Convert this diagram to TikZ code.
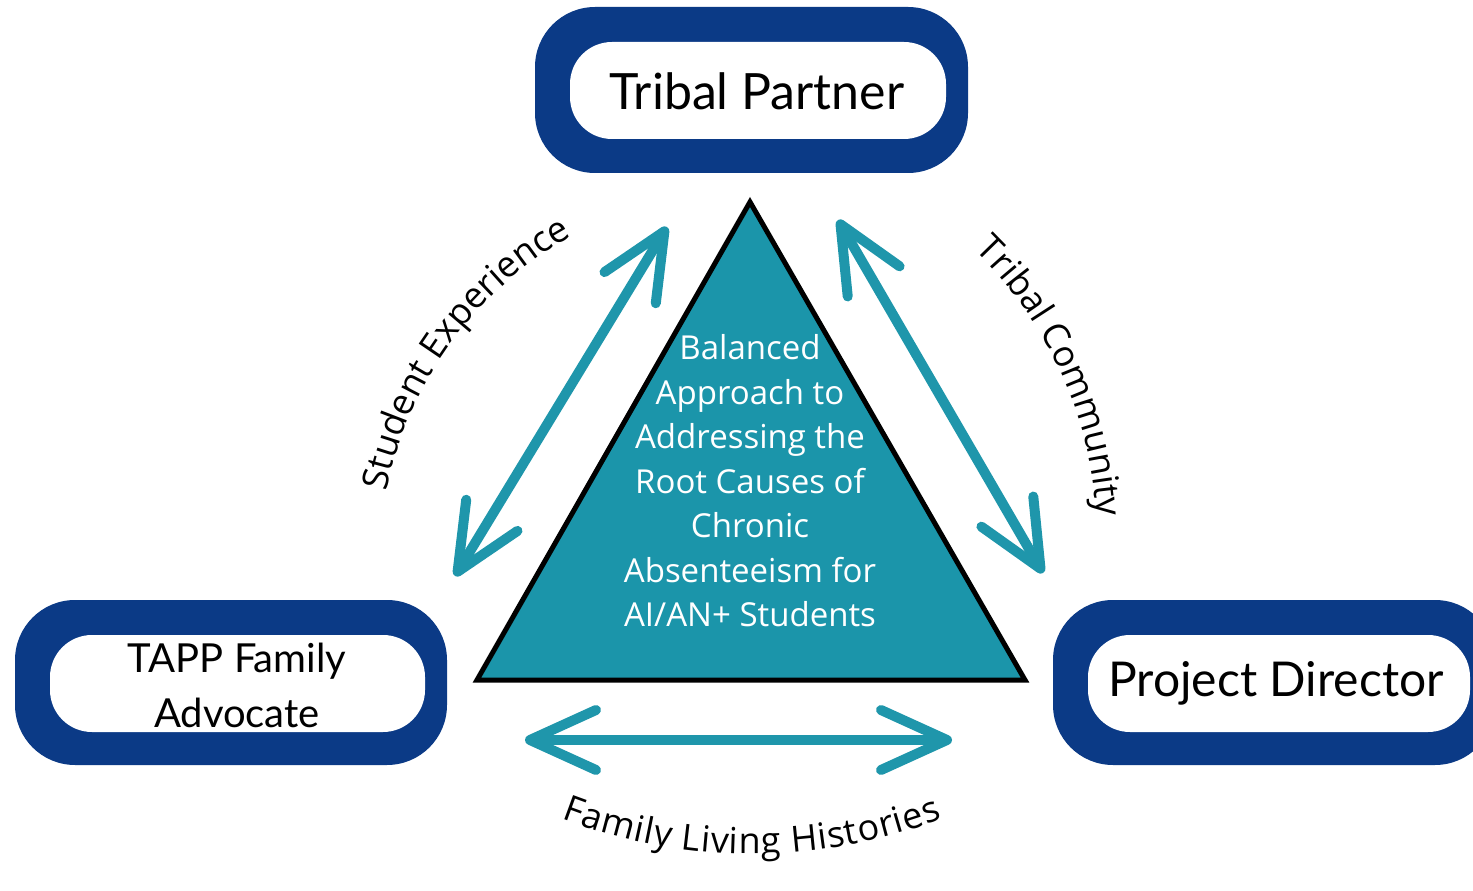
\documentclass[tikz,border=0pt]{standalone}
\usepackage{fontspec}
\usepackage{tikz}
\usetikzlibrary{arrows.meta,decorations.text}

\newfontfamily\boxfont{Lato}
\newfontfamily\capfont{Open Sans}
\newcommand{\arcfont}{\capfont\fontsize{18pt}{20pt}\selectfont}

\definecolor{navyband}{HTML}{0B3A86}
\definecolor{tealfill}{HTML}{1B95AA}
\definecolor{tealarrow}{HTML}{1F96AB}

\begin{document}
\begin{tikzpicture}[x=0.5pt,y=0.5pt,>={Straight Barb[length=33pt,width=30pt,round]},
  link/.style={tealarrow,line width=5pt,line cap=round,<->},
  boxlabel/.style={font=\boxfont\fontsize{25pt}{30pt}\selectfont,anchor=base,inner sep=0pt}]
  \useasboundingbox (0,0) rectangle (1473,890);

  % frames: dark band with a white pill cut into it
  % top
  \fill[navyband,rounded corners=30pt] (535,717) rectangle (968,883);
  \fill[white,rounded corners=21pt]    (570,751) rectangle (946,848);
  % bottom left
  \fill[navyband,rounded corners=30pt] (15,125) rectangle (447,290);
  \fill[white,rounded corners=21pt]    (50,158) rectangle (425,255);
  % bottom right (runs off the page)
  \fill[navyband,rounded corners=30pt] (1053,125) rectangle (1495,290);
  \fill[white,rounded corners=21pt]    (1088,158) rectangle (1470,255);

  \node[boxlabel] (partner)  at (757,780)  {Tribal Partner};
  \node[boxlabel,font=\boxfont\fontsize{24pt}{30pt}\selectfont] (director) at (1276,194) {Project Director};
  \node[font=\boxfont\fontsize{20pt}{27.5pt}\selectfont,align=center,inner sep=0pt]
    (advocate) at (237,205) {TAPP Family\\Advocate};

  % centre triangle
  \filldraw[fill=tealfill,draw=black,line width=2.5pt,line join=miter]
    (477,210) -- (750,688) -- (1025,210) -- cycle;
  \node[white,font=\capfont\fontsize{16.5pt}{22.25pt}\selectfont,align=center,inner sep=0pt]
    (approach) at (750,409)
    {Balanced\\Approach to\\Addressing the\\Root Causes of\\Chronic\\Absenteeism for\\AI/AN+ Students};

  % two-way arrows round the triangle
  \coordinate (sl1) at (667,663);
  \coordinate (sl2) at (455,314);
  \coordinate (sr1) at (838,670);
  \coordinate (sr2) at (1043,317);
  \coordinate (bl)  at (525,150);
  \coordinate (br)  at (952,150);
  \draw[link] (sl1) -- (sl2);
  \draw[link] (sr1) -- (sr2);
  \draw[link] (bl) -- (br);

  % curved captions
  \path[decorate,decoration={text along path,text align=center,
      text={|\arcfont|Student Experience}}]
    (752,328) ++(178:372) arc[start angle=178,end angle=110,radius=372];
  \path[decorate,decoration={text along path,text align=center,
      text={|\arcfont|Tribal Community}}]
    (692,350) ++(62:405) arc[start angle=62,end angle=-13,radius=405];
  \path[decorate,decoration={text along path,text align=fit to path,
      text={|\arcfont|Family Living Histories}}]
    (752,567) ++(-111:531) arc[start angle=-111,end angle=-69,radius=531];
\end{tikzpicture}
\end{document}
